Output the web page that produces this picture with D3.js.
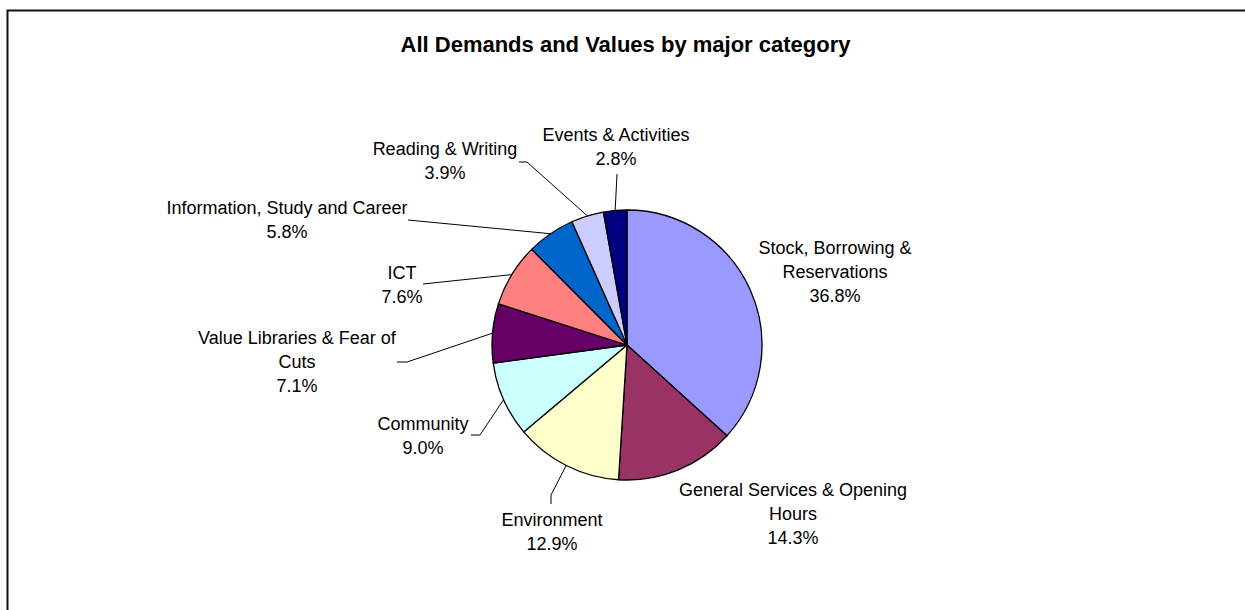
<!DOCTYPE html>
<html>
<head>
<meta charset="utf-8">
<script src="https://cdn.jsdelivr.net/npm/d3@7"></script>
<style>
  body { margin: 0; background: #fff; }
  text { font-family: "Liberation Sans", Arial, sans-serif; fill: #000; }
</style>
</head>
<body>
<svg width="1245" height="610"></svg>
<script>
// categories, clockwise from 12 o'clock
var categories = [
  "Stock, Borrowing & Reservations",
  "General Services & Opening Hours",
  "Environment",
  "Community",
  "Value Libraries & Fear of Cuts",
  "ICT",
  "Information, Study and Career",
  "Reading & Writing",
  "Events & Activities"
];
var shares = [36.8, 14.3, 12.9, 9.0, 7.1, 7.6, 5.8, 3.9, 2.8];
var colors = ["#9999FF", "#993366", "#FFFFCC", "#CCFFFF", "#660066",
              "#FF8080", "#0066CC", "#CCCCFF", "#000080"];

// how each label is wrapped
var labelLines = [
  ["Stock, Borrowing &", "Reservations"],
  ["General Services & Opening", "Hours"],
  ["Environment"],
  ["Community"],
  ["Value Libraries & Fear of", "Cuts"],
  ["ICT"],
  ["Information, Study and Career"],
  ["Reading & Writing"],
  ["Events & Activities"]
];

// label placement (centre x, first baseline y) and leader line bends
var labelLayout = [
  {x: 835, y: 254, leader: []},
  {x: 793, y: 496, leader: []},
  {x: 552, y: 526, leader: [[551, 495], [551, 504]]},
  {x: 423, y: 430, leader: [[480, 435], [471, 435]]},
  {x: 297, y: 344, leader: [[407, 362], [397, 362]]},
  {x: 402, y: 279, leader: [[423, 284]]},
  {x: 287, y: 214, leader: [[408, 220]]},
  {x: 445, y: 155, leader: [[527, 162], [519, 162]]},
  {x: 616, y: 141, leader: [[617, 174]]}
];

var svg = d3.select("svg"),
    cx = 627, cy = 345, radius = 135,
    lineH = 24;

// chart frame
svg.append("rect")
    .attr("x", 7.5)
    .attr("y", 10.5)
    .attr("width", 1260)
    .attr("height", 640)
    .attr("fill", "none")
    .attr("stroke", "#111")
    .attr("stroke-width", 2);

// title
svg.append("text")
    .attr("x", 625.5)
    .attr("y", 52)
    .attr("text-anchor", "middle")
    .style("font-size", "22px")
    .style("font-weight", "bold")
    .text("All Demands and Values by major category");

var data = categories.map(function(c, i) {
  return {name: c, value: shares[i], i: i};
});

var pie = d3.pie()
    .sort(null)
    .value(function(d) { return d.value; });

var arc = d3.arc().innerRadius(0).outerRadius(radius);

var g = svg.append("g")
    .attr("transform", "translate(" + cx + "," + cy + ")");

var arcs = pie(data);

g.selectAll("path.slice")
    .data(arcs)
  .enter().append("path")
    .attr("class", "slice")
    .attr("d", arc)
    .attr("fill", function(d) { return colors[d.data.i]; })
    .attr("stroke", "#000")
    .attr("stroke-width", 1.3)
    .attr("stroke-linejoin", "round");

// leader lines from the slice edge to the label
var line = d3.line();
arcs.forEach(function(d) {
  var lay = labelLayout[d.data.i];
  if (!lay.leader.length) return;
  var a = (d.startAngle + d.endAngle) / 2,
      start = [cx + radius * Math.sin(a), cy - radius * Math.cos(a)];
  svg.append("path")
      .attr("d", line([start].concat(lay.leader)))
      .attr("fill", "none")
      .attr("stroke", "#000")
      .attr("stroke-width", 1);
});

// labels: name lines then percentage
arcs.forEach(function(d) {
  var lay = labelLayout[d.data.i],
      lines = labelLines[d.data.i].concat([d.data.value.toFixed(1) + "%"]);
  var t = svg.append("text")
      .attr("text-anchor", "middle")
      .style("font-size", "18px");
  lines.forEach(function(s, k) {
    t.append("tspan")
        .attr("x", lay.x)
        .attr("y", lay.y + k * lineH)
        .text(s);
  });
});
</script>
</body>
</html>
